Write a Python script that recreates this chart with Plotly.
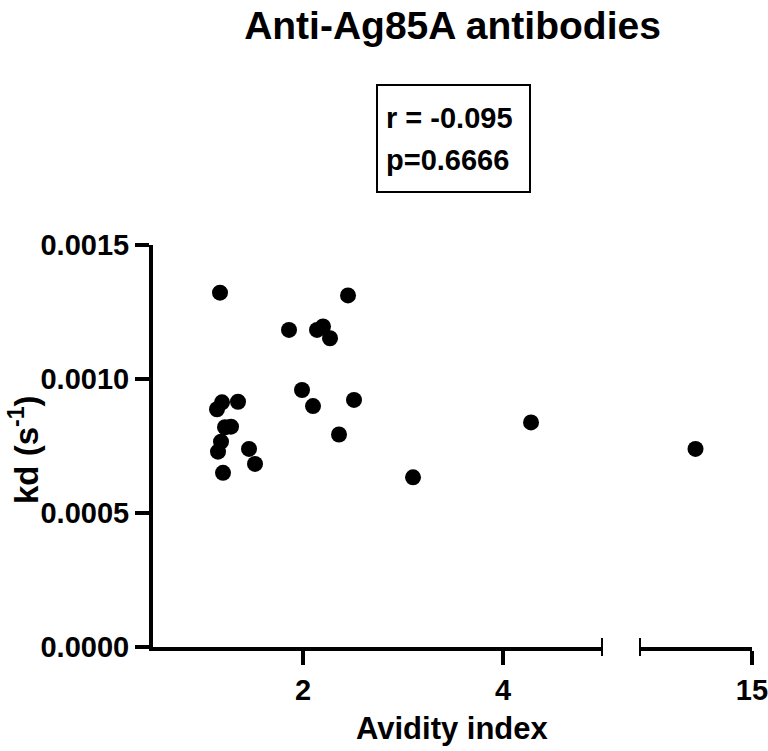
import plotly.graph_objects as go

# avidity index vs dissociation rate, one dot per sample
avidity = [1.17, 1.86, 2.14, 2.20, 2.27, 2.45, 1.19, 1.14, 1.35, 1.22, 1.28, 1.18,
           1.15, 1.46, 1.52, 1.20, 1.99, 2.10, 2.36, 2.51, 3.10, 4.28, 13.5]
kd = [0.001322, 0.001183, 0.001183, 0.001196, 0.001152, 0.001312, 0.000913,
      0.000887, 0.000915, 0.000820, 0.000822, 0.000766, 0.000729, 0.000739,
      0.000683, 0.000650, 0.000959, 0.000899, 0.000793, 0.000922, 0.000633,
      0.000838, 0.000739]

break_at = 5.0
left_ticks = [2, 4]
right_ticks = [15]
y_ticks = [0, 0.0005, 0.0010, 0.0015]

title = "Anti-Ag85A antibodies"
stats_lines = ["r = -0.095", "p=0.6666"]

FONT = "Liberation Sans, Arial, sans-serif"

left_x = [a for a in avidity if a <= break_at]
left_y = [k for a, k in zip(avidity, kd) if a <= break_at]
right_x = [a for a in avidity if a > break_at]
right_y = [k for a, k in zip(avidity, kd) if a > break_at]

marker = dict(color="black", size=16, line=dict(width=0))

fig = go.Figure()
fig.add_trace(go.Scatter(x=left_x, y=left_y, mode="markers", marker=marker,
                         xaxis="x", yaxis="y", cliponaxis=False))
fig.add_trace(go.Scatter(x=right_x, y=right_y, mode="markers", marker=marker,
                         xaxis="x2", yaxis="y", cliponaxis=False))

axis_common = dict(
    showline=True, linecolor="black", linewidth=4,
    ticks="outside", ticklen=14, tickwidth=4, tickcolor="black",
    showgrid=False, zeroline=False, ticklabeloverflow="allow", automargin=False,
    tickfont=dict(family=FONT, size=29, color="black", weight="bold"),
)

fig.update_layout(
    width=768, height=751,
    margin=dict(l=153, r=16, t=245, b=104, autoexpand=False),
    paper_bgcolor="white", plot_bgcolor="white",
    showlegend=False,
    xaxis=dict(domain=[0, 0.7513], range=[0.5, break_at], tickvals=left_ticks,
               anchor="y", **axis_common),
    xaxis2=dict(domain=[0.8114, 1], range=[12, 15.0001], tickvals=right_ticks,
                anchor="y", **axis_common),
    yaxis=dict(range=[0, 0.0015], tickvals=y_ticks, tickformat=".4f",
               anchor="x", **axis_common),
    title=dict(text=title, x=0.5, xref="paper", y=1 - 25 / 751, yref="container",
               xanchor="center", yanchor="middle",
               font=dict(family=FONT, size=39, color="black", weight="bold")),
)

# end caps of the broken x axis
fig.add_shape(type="line", xref="x", x0=break_at, x1=break_at,
              yref="paper", ysizemode="pixel", yanchor=0, y0=-9, y1=9,
              line=dict(color="black", width=4))
fig.add_shape(type="line", xref="x2", x0=12, x1=12,
              yref="paper", ysizemode="pixel", yanchor=0, y0=-9, y1=9,
              line=dict(color="black", width=4))

# stats box
fig.add_shape(type="rect", xref="paper", yref="paper",
              x0=(377 - 153) / 599, x1=(530 - 153) / 599,
              y0=(647 - 192) / 402, y1=(647 - 85) / 402,
              line=dict(color="black", width=2))
for line, ypix in zip(stats_lines, [118, 160]):
    fig.add_annotation(text=line, xref="paper", yref="paper",
                       x=(384 - 153) / 599, y=(647 - ypix) / 402,
                       xanchor="left", yanchor="middle", showarrow=False,
                       font=dict(family=FONT, size=29, color="black", weight="bold"))

# axis titles
fig.add_annotation(text="Avidity index", xref="paper", yref="paper",
                   x=0.5, y=(647 - 728) / 402, xanchor="center", yanchor="middle",
                   showarrow=False,
                   font=dict(family=FONT, size=31, color="black", weight="bold"))
fig.add_annotation(text="kd (s<sup>-1</sup>)", xref="paper", yref="paper",
                   x=(24 - 153) / 599, y=(647 - 450) / 402, textangle=-90,
                   xanchor="center", yanchor="middle", showarrow=False,
                   font=dict(family=FONT, size=33, color="black", weight="bold"))

# drop the default body margin so the figure fills the window exactly
fig.write_html("out.html", config={"displayModeBar": False},
               post_script="document.body.style.margin='0';"
                           "document.body.style.overflow='hidden';")
